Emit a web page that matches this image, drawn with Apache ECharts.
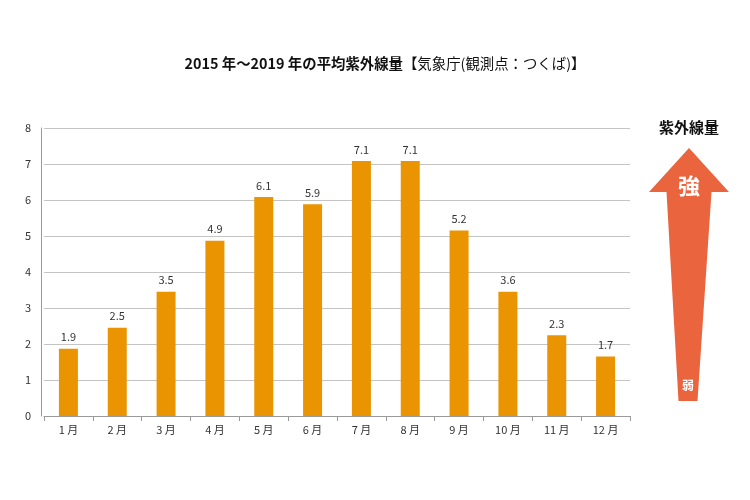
<!DOCTYPE html>
<html><head><meta charset="utf-8">
<script src="https://cdn.jsdelivr.net/npm/echarts@6/dist/echarts.min.js"></script>
<style>html,body{margin:0;padding:0;background:#fff}#c{width:750px;height:500px}</style>
</head><body><div id="c"></div>
<script>
var categories = ['1 月','2 月','3 月','4 月','5 月','6 月','7 月','8 月','9 月','10 月','11 月','12 月'];
var barValues = [1.87, 2.45, 3.45, 4.87, 6.08, 5.88, 7.08, 7.08, 5.15, 3.45, 2.24, 1.65];
var labelTexts = ['1.9','2.5','3.5','4.9','6.1','5.9','7.1','7.1','5.2','3.6','2.3','1.7'];
var yTicks = [0,1,2,3,4,5,6,7,8];

var F = '"Noto Sans CJK JP", "Noto Sans", sans-serif';
var chart = echarts.init(document.getElementById('c'));
chart.setOption({
  backgroundColor: '#fff',
  animation: false,
  title: {
    text: '{b|2015 年〜2019 年の平均紫外線量}{n|【気象庁(観測点：つくば)】}',
    left: 380, top: 51, textAlign: 'center',
    textStyle: {
      rich: {
        b: {fontFamily: F, fontSize: 14.4, fontWeight: 'bold', color: '#111'},
        n: {fontFamily: F, fontSize: 14.4, fontWeight: 'normal', color: '#111'}
      }
    }
  },
  grid: {left: 44, right: 120, top: 128, bottom: 84, containLabel: false},
  xAxis: {
    type: 'category', data: categories,
    axisLine: {lineStyle: {color: '#9a9a9a', width: 1}},
    axisTick: {show: true, length: 5, lineStyle: {color: '#9a9a9a'}},
    axisLabel: {color: '#333', fontFamily: F, fontSize: 11, margin: 8}
  },
  yAxis: {
    type: 'value', min: yTicks[0], max: yTicks[yTicks.length-1], interval: 1, offset: 3,
    axisLine: {show: true, lineStyle: {color: '#9a9a9a'}},
    axisTick: {show: false},
    axisLabel: {color: '#333', fontFamily: F, fontSize: 11, margin: 10},
    splitLine: {lineStyle: {color: '#c4c4c4', width: 1}}
  },
  series: [{
    type: 'bar', data: barValues, barWidth: 19,
    itemStyle: {color: '#E99400'},
    label: {
      show: true, position: 'top', distance: 6, color: '#333', fontFamily: F, fontSize: 11,
      formatter: function(p){ return labelTexts[p.dataIndex]; }
    }
  }],
  graphic: [
    {type: 'polygon', shape: {points: [[689,148],[729,192],[711.5,192],[697.5,401],[678.5,401],[666.5,192],[649,192]]},
     style: {fill: '#EA643E'}},
    {type: 'text', x: 689, y: 127, style: {text: '紫外線量', fill: '#111', font: 'bold 15px ' + F, textAlign: 'center', textVerticalAlign: 'middle'}},
    {type: 'text', x: 689, y: 186, style: {text: '強', fill: '#fff', font: 'bold 22px ' + F, textAlign: 'center', textVerticalAlign: 'middle'}},
    {type: 'text', x: 688, y: 385, style: {text: '弱', fill: '#fff', font: 'bold 12px ' + F, textAlign: 'center', textVerticalAlign: 'middle'}}
  ]
});
</script></body></html>
